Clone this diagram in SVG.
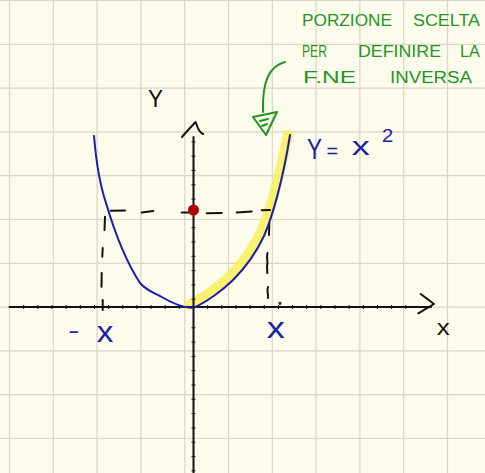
<svg xmlns="http://www.w3.org/2000/svg" width="485" height="473" viewBox="0 0 485 473">
<style>
.grid{stroke:#d9d6c6;stroke-width:1.2;fill:none}
.ink{fill:none;stroke:#111;stroke-width:2;stroke-linecap:round;stroke-linejoin:round}
.tick{stroke:#111;stroke-width:1;fill:none}
.blue{fill:none;stroke:#1a1fa8;stroke-width:2;stroke-linecap:round;stroke-linejoin:round}
.green{fill:none;stroke:#1f961f;stroke-width:2;stroke-linecap:round;stroke-linejoin:round}
.t{font-family:"Liberation Sans",Arial,sans-serif}
.tb{fill:#1a1fa8}
.tk{fill:#111}
.tg{fill:#1f961f;font-size:16px}
</style>
<rect width="485" height="473" fill="#fdfbec"/>
<g id="grid" class="grid">
<path d="M9.5 0V473M53.3 0V473M97.1 0V473M140.9 0V473M184.7 0V473M228.5 0V473M272.3 0V473M316.1 0V473M359.9 0V473M403.7 0V473M447.5 0V473"/>
<path d="M0 0.5H485M0 44.3H485M0 88.1H485M0 131.9H485M0 175.7H485M0 219.5H485M0 263.3H485M0 307.1H485M0 350.9H485M0 394.7H485M0 438.5H485"/>
</g>
<g id="highlight">
<path d="M189,305 C202,299 219,287 230,276 C242,264 253,249 261,232 C269,214 280,176 288,135" fill="none" stroke="#f7ef5c" stroke-opacity="0.85" stroke-width="10" stroke-linecap="round"/>
</g>
<g id="axes">
<path class="ink" d="M9.5,307 L431,307"/>
<path class="ink" d="M420.7,294 L434,304 L418.3,313.3"/>
<path class="ink" d="M193.5,137 L193.5,473"/>
<path class="ink" d="M182,137 C187,131 192,126 195.5,122 C197.5,125 197,131 203,134"/>
<path class="tick" d="M23.7 305V309M37.85 305V309M52 305V309M66.15 305V309M80.3 305V309M94.45 305V309M108.6 305V309M122.75 305V309M136.9 305V309M151.05 305V309M165.2 305V309M179.35 305V309M207.65 305V309M221.8 305V309M235.95 305V309M250.1 305V309M264.25 305V309M278.4 305V309M292.55 305V309M306.7 305V309M320.85 305V309M335 305V309M349.15 305V309M363.3 305V309M377.45 305V309M391.6 305V309M405.75 305V309"/>
<path class="tick" d="M191.5 141.9H195.5M191.5 156.2H195.5M191.5 170.5H195.5M191.5 184.8H195.5M191.5 199.1H195.5M191.5 213.4H195.5M191.5 227.7H195.5M191.5 242H195.5M191.5 256.3H195.5M191.5 270.6H195.5M191.5 284.9H195.5M191.5 299.2H195.5M191.5 327.8H195.5M191.5 342.1H195.5M191.5 356.4H195.5M191.5 370.7H195.5M191.5 385H195.5M191.5 399.3H195.5M191.5 413.6H195.5M191.5 427.9H195.5M191.5 442.2H195.5M191.5 456.5H195.5M191.5 470.8H195.5"/>
</g>
<g id="guides" class="ink">
<path d="M110.7,210.7 L125,210.5 M141.7,212.5 L153.3,211 M181.7,212.5 L190,212.5 M206.7,213.3 L221.7,213 M236.7,212.5 L251.7,211.5 M261.7,210.3 L270,210"/>
<path d="M105,216.7 L104.5,230 M102.7,248 L102.3,256.7 M101.7,273 L101.5,286.7 M102.7,300 L102.7,310"/>
<path d="M269.3,223 L269,235 M267.5,253 C266,258 268.5,262 267,266 L267.3,273 M268,287 C266.5,291 268.5,294 268,298"/>
<circle cx="280" cy="303.3" r="0.6"/>
</g>
<g id="curve">
<path class="blue" d="M94,136 C96,160 100,185 106,203 C114,230 125,260 140,283 C146,290 152,292 160,296 C170,302 182,308 193,308"/>
<path class="blue" d="M193,308 C205,303 222,291 233,280 C245,268 256,253 264,236 C272,218 283,180 290,135"/>
</g>
<g id="point">
<circle cx="193.5" cy="210" r="5.5" fill="#b30000"/>
</g>
<g id="labels" class="t">
<text class="tk" x="148" y="107" font-size="24" textLength="15" lengthAdjust="spacingAndGlyphs">Y</text>
<text class="tk" x="436.7" y="335" font-size="22" textLength="13" lengthAdjust="spacingAndGlyphs">x</text>
<text class="tb" x="68.3" y="337.6" font-size="22" textLength="11" lengthAdjust="spacingAndGlyphs">-</text>
<text class="tb" x="96.7" y="341.7" font-size="30" textLength="16.6" lengthAdjust="spacingAndGlyphs">x</text>
<text class="tb" x="266.7" y="338.3" font-size="30" textLength="18" lengthAdjust="spacingAndGlyphs">x</text>
<text class="tb" x="307" y="159" font-size="30" textLength="15" lengthAdjust="spacingAndGlyphs">Y</text>
<text class="tb" x="326.5" y="157.5" font-size="20" textLength="11.5" lengthAdjust="spacingAndGlyphs">=</text>
<text class="tb" x="351.7" y="155" font-size="26" textLength="18" lengthAdjust="spacingAndGlyphs">x</text>
<text class="tb" x="381.7" y="141.7" font-size="19" textLength="11.6" lengthAdjust="spacingAndGlyphs">2</text>
</g>
<g id="note" class="t">
<text class="tg" x="302" y="26" textLength="90" lengthAdjust="spacingAndGlyphs">PORZIONE</text>
<text class="tg" x="413" y="26" textLength="67" lengthAdjust="spacingAndGlyphs">SCELTA</text>
<text class="tg" x="302" y="57" textLength="25" lengthAdjust="spacingAndGlyphs">PER</text>
<text class="tg" x="358" y="57" textLength="83" lengthAdjust="spacingAndGlyphs">DEFINIRE</text>
<text class="tg" x="460" y="57" textLength="20" lengthAdjust="spacingAndGlyphs">LA</text>
<text class="tg" x="303" y="83" textLength="53" lengthAdjust="spacingAndGlyphs">F.NE</text>
<text class="tg" x="390" y="83" textLength="82" lengthAdjust="spacingAndGlyphs">INVERSA</text>
</g>
<g id="connectors">
<path class="green" d="M285,62 C270,66 262,80 263,112"/>
<path class="green" d="M253,117 L277,112 L266,135 Z"/>
<path class="green" d="M260,121 L268,119 M262,126 L267,124"/>
</g>
</svg>
